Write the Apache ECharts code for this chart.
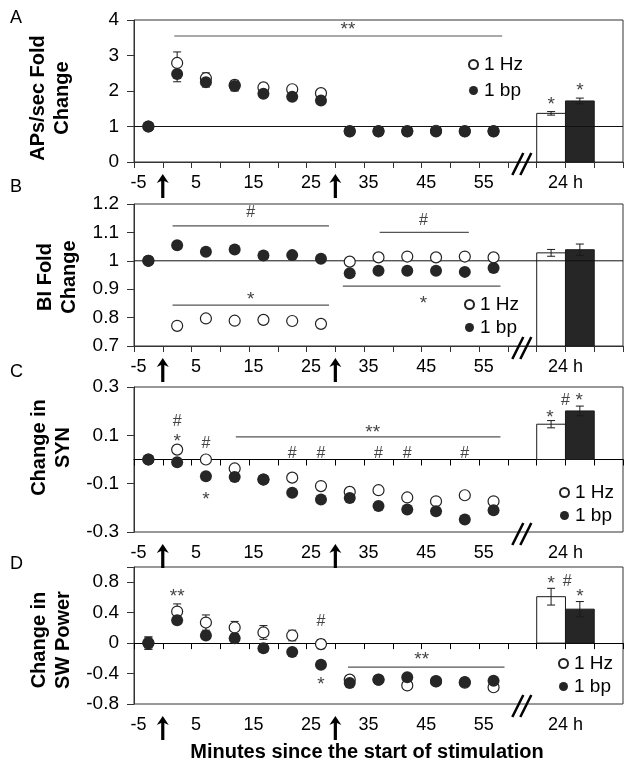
<!DOCTYPE html>
<html><head><meta charset="utf-8">
<script src="https://cdn.jsdelivr.net/npm/echarts@6/dist/echarts.min.js"></script>
<style>html,body{margin:0;padding:0;background:#fff}#c{width:634px;height:768px}</style>
</head><body><div id="c"></div>
<script>
// ---------- shared ----------
const times = [-2.5, 2.5, 7.5, 12.5, 17.5, 22.5, 27.5, 32.5, 37.5, 42.5, 47.5, 52.5, 57.5];
const xTickLabels = ['-5', '5', '15', '25', '35', '45', '55'];
const barTickLabel = '24 h';
const seriesNames = ['1 Hz', '1 bp'];
const stimOnsets = [0, 30];

// ---------- A: APs/sec fold change ----------
const apsHz     = [1, 2.79, 2.36, 2.17, 2.10, 2.05, 1.94, 0.87, 0.87, 0.87, 0.88, 0.87, 0.87];
const apsHzErr  = [0, 0.31, 0.15, 0.13, 0.12, 0.08, 0.08, 0.05, 0.05, 0.05, 0.10, 0.05, 0.05];
const apsBp     = [1, 2.48, 2.25, 2.14, 1.92, 1.84, 1.73, 0.86, 0.86, 0.86, 0.86, 0.86, 0.86];
const apsBpErr  = [0, 0.22, 0.14, 0.14, 0.08, 0.06, 0.06, 0.04, 0.04, 0.04, 0.06, 0.04, 0.04];
const apsBars   = [1.37, 1.72];
const apsBarsErr = [0.05, 0.08];
const apsSigLines = [[2, 59, 3.55]];
const apsSigTexts = [[32.2, 3.86, '**'], [67.5, 1.75, '*'], [72.5, 2.14, '*']];

// ---------- B: BI fold change ----------
const biHz     = [1.0, 0.771, 0.797, 0.789, 0.792, 0.788, 0.778, 0.997, 1.012, 1.015, 1.012, 1.015, 1.012];
const biHzErr  = [0, 0.006, 0.006, 0.006, 0.006, 0.006, 0.006, 0.006, 0.006, 0.006, 0.006, 0.006, 0.006];
const biBp     = [1.0, 1.055, 1.032, 1.040, 1.019, 1.020, 1.007, 0.956, 0.965, 0.965, 0.965, 0.961, 0.975];
const biBpErr  = [0, 0.007, 0.007, 0.009, 0.007, 0.007, 0.007, 0.007, 0.007, 0.007, 0.007, 0.007, 0.01];
const biBars   = [1.028, 1.039];
const biBarsErr = [0.012, 0.02];
const biSigLines = [[1.7, 28.9, 1.123], [1.7, 28.9, 0.844], [37.7, 53.2, 1.10], [31.3, 58.7, 0.911]];
const biSigTexts = [[15.3, 1.168, '#'], [15.3, 0.88, '*'], [45.3, 1.141, '#'], [45.3, 0.865, '*']];

// ---------- C: change in SYN ----------
const synHz     = [0, 0.041, 0.0, -0.037, -0.083, -0.075, -0.11, -0.134, -0.127, -0.157, -0.173, -0.148, -0.173];
const synHzErr  = [0, 0.008, 0.008, 0.008, 0.008, 0.008, 0.008, 0.008, 0.008, 0.008, 0.008, 0.008, 0.008];
const synBp     = [0, -0.011, -0.069, -0.072, -0.083, -0.138, -0.166, -0.159, -0.192, -0.207, -0.214, -0.248, -0.21];
const synBpErr  = [0, 0.008, 0.008, 0.008, 0.008, 0.008, 0.008, 0.008, 0.008, 0.008, 0.008, 0.008, 0.008];
const synBars   = [0.146, 0.201];
const synBarsErr = [0.015, 0.02];
const synSigLines = [[12.7, 58.7, 0.094]];
const synSigTexts = [[36.5, 0.131, '**'], [22.5, 0.025, '#'], [27.5, 0.025, '#'], [37.5, 0.025, '#'],
  [42.5, 0.025, '#'], [52.5, 0.025, '#'], [2.5, 0.156, '#'], [2.5, 0.096, '*'], [7.5, 0.066, '#'],
  [7.5, -0.144, '*'], [67.3, 0.193, '*'], [70, 0.245, '#'], [72.4, 0.262, '*']];

// ---------- D: change in SW power ----------
const swHz     = [0, 0.415, 0.27, 0.205, 0.14, 0.10, -0.013, -0.48, -0.48, -0.556, -0.50, -0.52, -0.58];
const swHzErr  = [0.08, 0.10, 0.10, 0.08, 0.09, 0.07, 0.06, 0.05, 0.04, 0.04, 0.05, 0.04, 0.04];
const swBp     = [0, 0.30, 0.10, 0.065, -0.066, -0.118, -0.285, -0.525, -0.48, -0.45, -0.503, -0.51, -0.495];
const swBpErr  = [0.08, 0.04, 0.04, 0.04, 0.03, 0.03, 0.04, 0.04, 0.04, 0.04, 0.05, 0.04, 0.04];
const swBars   = [0.61, 0.446];
const swBarsErr = [0.11, 0.10];
const swSigLines = [[32.2, 59.4, -0.315]];
const swSigTexts = [[2.5, 0.67, '**'], [27.5, 0.28, '#'], [27.5, -0.48, '*'], [45, -0.155, '**'],
  [67.5, 0.843, '*'], [70.3, 0.81, '#'], [72.5, 0.67, '*']];

// ---------- layout ----------
const FONT = 'Liberation Sans, Arial, sans-serif';
const barX = [67.5, 72.5];
const panels = [
  {letter: 'A', title: 'APs/sec Fold\nChange', top: 20, height: 142, y: {min: 0, max: 4, interval: 1},
   onZero: false, hz: apsHz, hzErr: apsHzErr, bp: apsBp, bpErr: apsBpErr, bars: apsBars, barsErr: apsBarsErr,
   ref: 1, lines: apsSigLines, texts: apsSigTexts, legend: {left: 468, top: 55, gap: 7},
   nameGap: 60, namePad: [0, 14, 0, 0], letterY: 18},
  {letter: 'B', title: 'BI Fold\nChange', top: 204, height: 142, y: {min: 0.7, max: 1.2, interval: 0.1},
   onZero: false, hz: biHz, hzErr: biHzErr, bp: biBp, bpErr: biBpErr, bars: biBars, barsErr: biBarsErr,
   ref: 1, lines: biSigLines, texts: biSigTexts, legend: {left: 464, top: 295, gap: 4},
   nameGap: 53, namePad: [0, 4, 0, 0], letterY: 187},
  {letter: 'C', title: 'Change in\nSYN', top: 387, height: 145, y: {min: -0.3, max: 0.3, interval: 0.2},
   onZero: true, hz: synHz, hzErr: synHzErr, bp: synBp, bpErr: synBpErr, bars: synBars, barsErr: synBarsErr,
   ref: null, lines: synSigLines, texts: synSigTexts, legend: {left: 559, top: 483, gap: 4},
   nameGap: 59, namePad: [0, 0, 0, 24], letterY: 372},
  {letter: 'D', title: 'Change in\nSW Power', top: 567, height: 137, y: {min: -0.8, max: 1.0, interval: 0.4},
   onZero: true, hz: swHz, hzErr: swHzErr, bp: swBp, bpErr: swBpErr, bars: swBars, barsErr: swBarsErr,
   ref: null, lines: swSigLines, texts: swSigTexts, legend: {left: 558, top: 654, gap: 4},
   nameGap: 56, namePad: [0, 9, 0, 0], letterY: 564}
];

// ---------- renderers ----------
function errRender(params, api) {
  const x = api.value(0), y = api.value(1), e = api.value(2);
  if (!e) return null;
  const a = api.coord([x, y - e]), b = api.coord([x, y + e]);
  const cw = 4, st = {stroke: '#1a1a1a', lineWidth: 1};
  return {type: 'group', children: [
    {type: 'line', shape: {x1: a[0], y1: a[1], x2: b[0], y2: b[1]}, style: st},
    {type: 'line', shape: {x1: a[0] - cw, y1: a[1], x2: a[0] + cw, y2: a[1]}, style: st},
    {type: 'line', shape: {x1: b[0] - cw, y1: b[1], x2: b[0] + cw, y2: b[1]}, style: st}
  ]};
}
function barRender(base) {
  return function (params, api) {
    const x = api.value(0), v = api.value(1);
    const a = api.coord([x - 2.5, base]), b = api.coord([x + 2.5, v]);
    return {type: 'rect', shape: {x: a[0], y: Math.min(a[1], b[1]), width: b[0] - a[0], height: Math.abs(a[1] - b[1])},
      style: {fill: params.dataIndex === 0 ? '#fff' : '#262626', stroke: '#1a1a1a', lineWidth: 1}};
  };
}
function hlineRender(color, width) {
  return function (params, api) {
    const a = api.coord([api.value(0), api.value(2)]), b = api.coord([api.value(1), api.value(2)]);
    return {type: 'line', shape: {x1: a[0], y1: a[1], x2: b[0], y2: b[1]}, style: {stroke: color, lineWidth: width}};
  };
}
function textRender(list) {
  return function (params, api) {
    const it = list[params.dataIndex];
    const p = api.coord([it[0], it[1]]);
    const star = it[2].indexOf('*') >= 0;
    return {type: 'text', x: p[0], y: p[1] + (star ? 5 : 0),
      style: {text: it[2], fill: '#444', font: (star ? '19px ' : '16px ') + FONT, align: 'center', verticalAlign: 'middle'}};
  };
}
function arrowRender(params, api) {
  const p = api.coord([api.value(0), api.value(1)]);
  const x = p[0], y = p[1];
  return {type: 'polygon', shape: {points: [[x, y + 12], [x + 6, y + 21], [x + 1.6, y + 19], [x + 1.6, y + 36],
    [x - 1.6, y + 36], [x - 1.6, y + 19], [x - 6, y + 21]]}, style: {fill: '#000'}};
}
function breakRender(params, api) {
  const p = api.coord([api.value(0), api.value(1)]);
  const x = p[0], y = p[1], st = {stroke: '#000', lineWidth: 2.5};
  return {type: 'group', children: [
    {type: 'line', shape: {x1: x - 10, y1: y + 13, x2: x + 1, y2: y - 9}, style: st},
    {type: 'line', shape: {x1: x - 2, y1: y + 13, x2: x + 9, y2: y - 9}, style: st}
  ]};
}

// ---------- build option ----------
const grid = [], xAxis = [], yAxis = [], series = [], legend = [], graphic = [];
const axisColor = '#333';
panels.forEach((pn, gi) => {
  grid.push({left: 134, top: pn.top, width: 489, height: pn.height, show: true, borderColor: axisColor, borderWidth: 1, backgroundColor: 'transparent'});
  const labelAxis = {
    type: 'value', gridIndex: gi, min: -5, max: 80, interval: 5, position: 'bottom',
    axisLine: {show: !pn.onZero, onZero: false, lineStyle: {color: axisColor}},
    axisTick: {show: !pn.onZero, length: 6, lineStyle: {color: axisColor}},
    splitLine: {show: false},
    axisLabel: {
      margin: 12, fontSize: 18, fontFamily: FONT, color: '#000', showMinLabel: true, showMaxLabel: true,
      formatter: v => {
        const s = String(Math.round(v));
        if (xTickLabels.indexOf(s) >= 0) return '{n|' + s + '}';
        if (Math.round(v) === 70) return barTickLabel;
        return '';
      },
      rich: {n: {fontSize: 18, fontFamily: FONT, color: '#000', padding: [0, 0, 0, 9]}}
    }
  };
  let xiLabel, xiMain;
  if (pn.onZero) {
    xiMain = xAxis.length;
    xAxis.push({type: 'value', gridIndex: gi, min: -5, max: 80, interval: 5, position: 'bottom',
      axisLine: {show: true, onZero: true, lineStyle: {color: '#000'}},
      axisTick: {show: true, length: 6, lineStyle: {color: '#000'}},
      axisLabel: {show: false}, splitLine: {show: false}});
    xiLabel = xAxis.length;
    xAxis.push(labelAxis);
  } else {
    xiMain = xiLabel = xAxis.length;
    xAxis.push(labelAxis);
  }
  const yi = yAxis.length;
  yAxis.push({type: 'value', gridIndex: gi, min: pn.y.min, max: pn.y.max, interval: pn.y.interval, position: 'left',
    axisLine: {show: true, onZero: false, lineStyle: {color: axisColor}},
    axisTick: {show: true, length: 7, lineStyle: {color: axisColor}},
    splitLine: {show: false},
    axisLabel: {margin: 15, fontSize: 19, fontFamily: FONT, color: '#000',
      formatter: v => (pn.letter === 'D' && v > 0.9) ? '' : String(Math.round(v * 10) / 10)},
    name: pn.title, nameLocation: 'middle', nameRotate: 90, nameGap: pn.nameGap,
    nameTextStyle: {fontSize: 20, fontWeight: 'bold', fontFamily: FONT, color: '#000', lineHeight: 24, padding: pn.namePad}
  });
  const base = pn.onZero ? 0 : pn.y.min;
  const common = {xAxisIndex: xiMain, yAxisIndex: yi};
  series.push(Object.assign({type: 'custom', name: 'bars' + gi, z: 1, renderItem: barRender(base),
    encode: {x: 0, y: 1}, data: pn.bars.map((v, i) => [barX[i], v])}, common));
  if (pn.ref !== null) {
    series.push(Object.assign({type: 'custom', name: 'ref' + gi, z: 2, renderItem: hlineRender('#111', 1),
      encode: {x: [0, 1], y: 2}, data: [[-5, 80, pn.ref]]}, common));
  }
  series.push(Object.assign({type: 'custom', name: 'sig' + gi, z: 2, renderItem: hlineRender('#555', 1.2),
    encode: {x: [0, 1], y: 2}, data: pn.lines}, common));
  series.push(Object.assign({type: 'custom', name: 'errHz' + gi, z: 3, renderItem: errRender,
    encode: {x: 0, y: 1}, data: times.map((t, i) => [t, pn.hz[i], pn.hzErr[i]])}, common));
  series.push(Object.assign({type: 'custom', name: 'errBp' + gi, z: 3, renderItem: errRender,
    encode: {x: 0, y: 1}, data: times.map((t, i) => [t, pn.bp[i], pn.bpErr[i]])}, common));
  series.push(Object.assign({type: 'custom', name: 'errBar' + gi, z: 3, renderItem: errRender,
    encode: {x: 0, y: 1}, data: pn.bars.map((v, i) => [barX[i], v, pn.barsErr[i]])}, common));
  series.push(Object.assign({type: 'scatter', name: seriesNames[0], z: 4, symbol: 'circle', symbolSize: 11,
    itemStyle: {color: '#fff', borderColor: '#222', borderWidth: 1.2, opacity: 1},
    data: times.map((t, i) => [t, pn.hz[i]])}, common));
  series.push(Object.assign({type: 'scatter', name: seriesNames[1], z: 5, symbol: 'circle', symbolSize: 12,
    itemStyle: {color: '#262626', borderColor: '#262626', borderWidth: 0, opacity: 1},
    data: times.map((t, i) => [t, pn.bp[i]])}, common));
  series.push(Object.assign({type: 'custom', name: 'txt' + gi, z: 6, renderItem: textRender(pn.texts),
    encode: {x: 0, y: 1}, data: pn.texts.map(t => [t[0], t[1]])}, common));
  series.push({type: 'custom', name: 'arrows' + gi, z: 6, clip: false, xAxisIndex: xiLabel, yAxisIndex: yi,
    renderItem: arrowRender, encode: {x: 0, y: 1}, data: stimOnsets.map(t => [t, pn.y.min])});
  series.push({type: 'custom', name: 'brk' + gi, z: 6, clip: false, xAxisIndex: xiLabel, yAxisIndex: yi,
    renderItem: breakRender, encode: {x: 0, y: 1}, data: [[62.5, pn.y.min]]});
  legend.push({data: seriesNames.slice(), orient: 'vertical', left: pn.legend.left, top: pn.legend.top,
    itemWidth: 9, itemHeight: 9, itemGap: pn.legend.gap, selectedMode: false, padding: 0,
    textStyle: {fontSize: 19, fontFamily: FONT, color: '#000', padding: [0, 0, 0, 1]}});
  graphic.push({type: 'text', left: 10, top: pn.letterY - 9, style: {text: pn.letter, font: '18px ' + FONT, fill: '#000'}});
});
graphic.push({type: 'text', x: 367, y: 752, style: {text: 'Minutes since the start of stimulation',
  font: 'bold 20px ' + FONT, fill: '#000', align: 'center', verticalAlign: 'middle'}});

const chart = echarts.init(document.getElementById('c'), null, {renderer: 'canvas'});
chart.setOption({animation: false, backgroundColor: '#fff', grid, xAxis, yAxis, series, legend, graphic});
</script></body></html>
